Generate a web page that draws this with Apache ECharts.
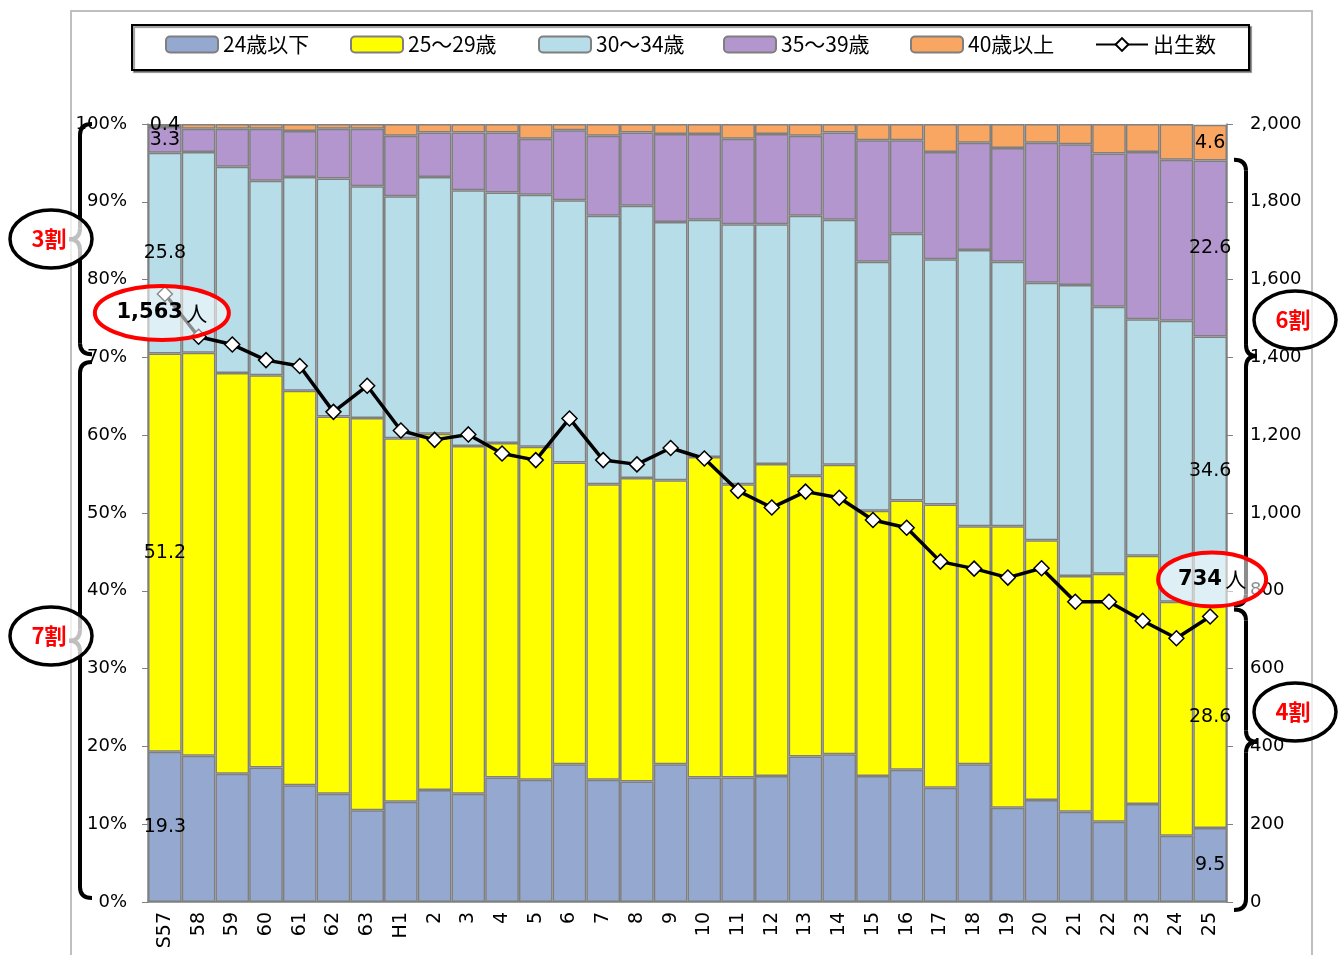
<!DOCTYPE html>
<html>
<head>
<meta charset="utf-8">
<script src="https://cdn.jsdelivr.net/npm/echarts@6/dist/echarts.min.js"></script>
<style>
  html, body { margin: 0; padding: 0; background: #fff; }
  #main { width: 1343px; height: 955px; }
</style>
</head>
<body>
<div id="main"></div>
<script>
// 年次（昭和57年～平成25年）
const years = ['S57','58','59','60','61','62','63','H1','2','3','4','5','6','7','8','9',
  '10','11','12','13','14','15','16','17','18','19','20','21','22','23','24','25'];

// 母の年齢別構成比（%）
const age24under = [19.3,18.8,16.5,17.3,15.0,13.9,11.8,12.9,14.4,13.9,16.0,15.7,17.7,15.7,15.5,17.7,
  16.0,16.0,16.2,18.7,19.0,16.2,17.0,14.7,17.7,12.1,13.1,11.6,10.3,12.6,8.5,9.5];
const age25to29 = [51.2,51.8,51.5,50.4,50.7,48.5,50.4,46.7,45.8,44.7,43.0,42.8,38.8,38.0,39.0,36.5,
  41.2,37.7,40.1,36.1,37.2,34.1,34.6,36.4,30.6,36.2,33.4,30.3,31.9,31.9,30.1,28.6];
const age30to34 = [25.8,25.8,26.5,25.0,27.5,30.6,29.8,31.1,33.0,32.9,32.2,32.4,33.7,34.5,35.0,33.2,
  30.5,33.4,30.8,33.4,31.5,32.0,34.3,31.5,35.5,34.0,33.1,37.4,34.3,30.4,36.1,34.6];
const age35to39 = [3.3,3.0,4.9,6.7,5.9,6.4,7.4,7.8,5.7,7.4,7.7,7.2,9.0,10.3,9.4,11.3,
  11.0,11.0,11.6,10.3,11.2,15.6,12.0,13.8,13.8,14.6,18.0,18.1,19.7,21.5,20.7,22.6];
const age40over = [0.4,0.6,0.6,0.6,0.9,0.6,0.6,1.5,1.1,1.1,1.1,1.9,0.8,1.5,1.1,1.3,
  1.3,1.9,1.3,1.5,1.1,2.1,2.1,3.6,2.4,3.1,2.4,2.6,3.8,3.6,4.6,4.6];

// 出生数（人）
const births = [1563,1453,1433,1393,1378,1260,1327,1212,1188,1202,1153,1136,1243,1136,1125,1167,
  1140,1057,1014,1055,1039,982,962,875,857,834,858,772,772,723,678,734];

const seriesNames = ['24歳以下', '25～29歳', '30～34歳', '35～39歳', '40歳以上', '出生数'];

const chart = echarts.init(document.getElementById('main'));
const last = years.length - 1;

// 最初と最後の棒だけ数値を表示
function withEndLabels(arr) {
  return arr.map((v, i) => ({
    value: v,
    label: { show: i === 0 || i === last }
  }));
}

function barSeries(name, data, color) {
  return {
    name: name,
    type: 'bar',
    stack: 'pct',
    barCategoryGap: 0,
    data: withEndLabels(data),
    itemStyle: { color: color, borderColor: '#7F7F7F', borderWidth: 1.5 },
    label: {
      position: 'inside',
      color: '#000',
      fontFamily: 'DejaVu Sans',
      fontSize: 19,
      formatter: p => p.value.toFixed(1)
    },
    emphasis: { disabled: true }
  };
}

const axisFont = { fontFamily: 'DejaVu Sans', fontSize: 18, color: '#000' };

// 凡例は項目ごとに配置（元図の等間隔に合わせる）
const legendLeft = [165, 350, 538, 723, 910, 1095];
const legends = seriesNames.map((name, i) => ({
  left: legendLeft[i],
  top: 34,
  padding: 0,
  itemWidth: 52,
  itemHeight: 16,
  selectedMode: false,
  textStyle: { fontFamily: 'Noto Sans CJK JP', fontSize: 21, color: '#000' },
  data: [name]
}));

chart.setOption({
  animation: false,
  backgroundColor: '#fff',
  legend: legends,
  grid: { left: 148, right: 116, top: 124, bottom: 53 },
  xAxis: {
    type: 'category',
    data: years,
    axisLine: { lineStyle: { color: '#808080', width: 1.5 } },
    axisTick: { length: 7, lineStyle: { color: '#808080' } },
    axisLabel: Object.assign({ rotate: 90, interval: 0, margin: 10 }, axisFont, { fontSize: 19 })
  },
  yAxis: [
    {
      type: 'value', min: 0, max: 100, interval: 10,
      axisLine: { show: true, lineStyle: { color: '#808080', width: 1.5 } },
      axisTick: { show: true, length: 6, lineStyle: { color: '#808080' } },
      splitLine: { show: false },
      axisLabel: Object.assign({ margin: 21, formatter: '{value}%' }, axisFont)
    },
    {
      type: 'value', min: 0, max: 2000, interval: 200,
      axisLine: { show: true, lineStyle: { color: '#808080', width: 1.5 } },
      axisTick: { show: true, length: 6, lineStyle: { color: '#808080' } },
      splitLine: { show: false },
      axisLabel: Object.assign({ margin: 23, formatter: v => v.toLocaleString('en-US') }, axisFont)
    }
  ],
  series: [
    barSeries(seriesNames[0], age24under, '#95A9D0'),
    barSeries(seriesNames[1], age25to29, '#FFFF00'),
    barSeries(seriesNames[2], age30to34, '#B7DDE8'),
    barSeries(seriesNames[3], age35to39, '#B396CD'),
    barSeries(seriesNames[4], age40over, '#F8A661'),
    {
      name: seriesNames[5],
      type: 'line',
      yAxisIndex: 1,
      data: births,
      symbol: 'diamond',
      symbolSize: 15,
      lineStyle: { color: '#000', width: 3.5 },
      itemStyle: { color: '#fff', borderColor: '#000', borderWidth: 1.5 },
      z: 5,
      emphasis: { disabled: true }
    }
  ]
});

// 注釈（中括弧・割合の吹き出し・出生数の楕円）
function brace(vx, top, bot, frac, dir) {
  const mid = top + (bot - top) * frac;
  const hx = vx - dir * 12, cx = vx + dir * 11, r = 11;
  const st = { stroke: '#000', lineWidth: 4, fill: null };
  return [
    { type: 'bezierCurve', shape: { x1: hx, y1: top, cpx1: vx, cpy1: top, x2: vx, y2: top + r }, style: st },
    { type: 'line', shape: { x1: vx, y1: top + r, x2: vx, y2: mid - r }, style: st },
    { type: 'bezierCurve', shape: { x1: vx, y1: mid - r, cpx1: vx, cpy1: mid, x2: cx, y2: mid }, style: st },
    { type: 'bezierCurve', shape: { x1: cx, y1: mid, cpx1: vx, cpy1: mid, x2: vx, y2: mid + r }, style: st },
    { type: 'line', shape: { x1: vx, y1: mid + r, x2: vx, y2: bot - r }, style: st },
    { type: 'bezierCurve', shape: { x1: vx, y1: bot - r, cpx1: vx, cpy1: bot, x2: hx, y2: bot }, style: st }
  ];
}

function ratioBubble(cx, cy, text) {
  return [
    { type: 'ellipse', shape: { cx: cx, cy: cy, rx: 41, ry: 29 },
      style: { fill: 'rgba(255,255,255,0.75)', stroke: '#000', lineWidth: 3.5 }, z: 20 },
    { type: 'text', x: cx - 2, y: cy, z: 21,
      style: { text: text, fill: '#FF0000', font: 'bold 22px "Noto Sans CJK JP"',
        align: 'center', verticalAlign: 'middle' } }
  ];
}

function birthBubble(cx, cy, rx, num) {
  return [
    { type: 'ellipse', shape: { cx: cx, cy: cy, rx: rx, ry: 27 },
      style: { fill: 'rgba(255,255,255,0.55)', stroke: '#FF0000', lineWidth: 4 }, z: 20 },
    { type: 'text', x: cx, y: cy, z: 21,
      style: {
        text: '{b|' + num.toLocaleString('en-US') + '} {n|人}',
        rich: {
          b: { font: 'bold 21px "DejaVu Sans"', fill: '#000' },
          n: { font: '21px "Noto Sans CJK JP"', fill: '#000' }
        },
        align: 'center', verticalAlign: 'middle'
      } }
  ];
}

const yL = v => chart.convertToPixel({ yAxisIndex: 0 }, v);
const first = chart.convertToPixel({ seriesIndex: 5 }, [0, births[0]]);
const lastPt = chart.convertToPixel({ seriesIndex: 5 }, [last, births[last]]);
const lowerShare = age24under[last] + age25to29[last];
const upperTop = 100 - age40over[last];

const g = [
  { type: 'rect', shape: { x: 71, y: 11, width: 1241, height: 1000 },
    style: { fill: null, stroke: '#BFBFBF', lineWidth: 2 }, z: -10, silent: true },
  // 凡例の枠
  { type: 'rect', shape: { x: 132, y: 25, width: 1117, height: 45 }, z: -5, silent: true,
    style: { fill: '#fff', stroke: '#000', lineWidth: 2,
      shadowColor: 'rgba(0,0,0,0.4)', shadowOffsetX: 2, shadowOffsetY: 2, shadowBlur: 1 } }
];
g.push(...brace(80, yL(100), yL(70.4), 0.5, -1));
g.push(...brace(80, yL(69.4), yL(0.5), 0.52, -1));
g.push(...brace(1246, yL(upperTop), yL(lowerShare), 0.44, 1));
g.push(...brace(1246, yL(lowerShare - 0.5), yL(0) + 8, 0.44, 1));
g.push(...ratioBubble(51, 239, '3割'));
g.push(...ratioBubble(51, 636, '7割'));
g.push(...ratioBubble(1295, 320, '6割'));
g.push(...ratioBubble(1295, 712, '4割'));
g.push(...birthBubble(first[0] - 3, first[1] + 19, 67, births[0]));
g.push(...birthBubble(lastPt[0] + 2, lastPt[1] - 37, 54, births[last]));

chart.setOption({ graphic: g });
</script>
</body>
</html>
